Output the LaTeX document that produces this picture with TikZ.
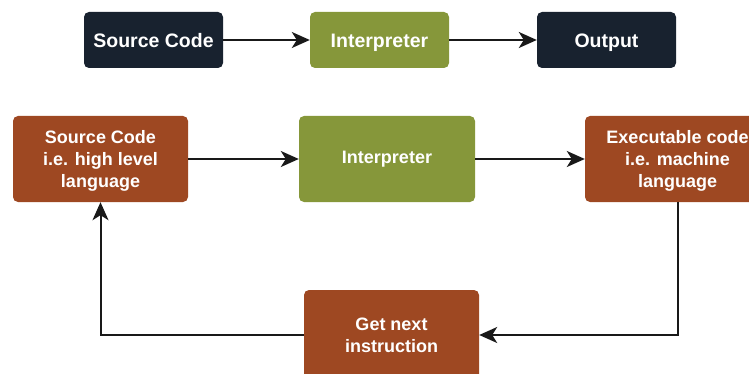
\documentclass[tikz,border=0pt]{standalone}
\usepackage{fontspec}
\setmainfont{Liberation Sans}
\usetikzlibrary{arrows.meta}
\definecolor{navy}{HTML}{18222F}
\definecolor{olive}{HTML}{86973A}
\definecolor{rust}{HTML}{9E4822}
\tikzset{
  box/.style={rectangle, rounded corners=5pt, draw=none, text=white, align=center,
    font=\fontsize{18}{22}\selectfont\bfseries, inner sep=0pt},
  topbox/.style={box, minimum width=139pt, minimum height=56pt,
    font=\fontsize{19.5}{23}\selectfont\bfseries, text height=16pt, text depth=0pt},
  conn/.style={line width=2pt, draw=black!90, -{Stealth[length=18pt,width=16pt,inset=5pt]}},
}
\begin{document}
\begin{tikzpicture}[x=1pt,y=-1pt]
\useasboundingbox (0,0) rectangle (749,374);
% top row
\node[topbox, fill=navy] (src1) at (153.5,40) {Source Code};
\node[topbox, fill=olive] (int1) at (379.5,40) {Interpreter};
\node[topbox, fill=navy] (out1) at (606.5,40) {Output};
\draw[conn] (src1) -- (int1);
\draw[conn] (int1) -- (out1);
% second row
\node[box, fill=rust, minimum width=175pt, minimum height=86pt, text depth=0pt] (src2) at (100.5,159) {Source Code\\i.e. high level\\language};
\node[box, fill=olive, minimum width=176pt, minimum height=86pt] (int2) at (387,159) {Interpreter};
\node[box, fill=rust, minimum width=185pt, minimum height=86pt, text depth=0pt] (exe) at (677.5,159) {Executable code\\i.e. machine\\language};
\node[box, fill=rust, minimum width=175pt, minimum height=90pt] (get) at (391.5,335) {Get next\\instruction};
\draw[conn] (src2) -- (int2);
\draw[conn] (int2) -- (exe);
\draw[conn] (exe.south) |- (get.east);
\draw[conn] (get.west) -| (src2.south);
\end{tikzpicture}
\end{document}
